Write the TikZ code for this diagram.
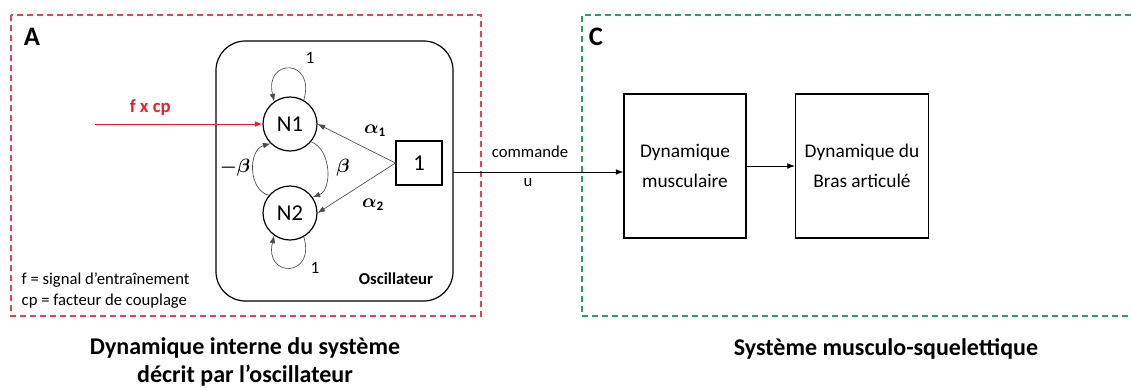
\documentclass[tikz,border=0pt]{standalone}
\usepackage{amsmath,amssymb}
\usepackage{fontspec}
\setmainfont{Carlito}
\usetikzlibrary{arrows.meta}
\definecolor{zonered}{RGB}{232,64,80}
\definecolor{zonegreen}{RGB}{40,160,96}
\definecolor{inred}{RGB}{236,30,40}

\begin{document}
\begin{tikzpicture}[x=0.75pt, y=-0.75pt, every node/.style={font=\fontsize{12}{14}\selectfont}, >={Latex[length=2mm]},
	neuron/.style={draw, circle, line width=0.9pt, minimum size=40.5pt, inner sep=0pt, font=\fontsize{17}{20}\selectfont},
	block/.style={draw, line width=0.9pt, minimum height=108pt, align=center, font=\fontsize{14.5}{23}\selectfont},
	zone/.style={line width=0.9pt, dash pattern=on 4.5pt off 3pt},
	link/.style={->, black!70, line width=0.5pt}]
	\useasboundingbox (0,0) rectangle (1131,387);
	% zones
	\draw[zone, zonered] (11,15) rectangle (481,316);
	\draw[zone, zonegreen] (1131,15) -- (582,15) -- (582,316) -- (1131,316);
	\node[font=\fontsize{20}{22}\selectfont\bfseries] (lblA) at (32,37) {A};
	\node[font=\fontsize{20}{22}\selectfont\bfseries] (lblC) at (596,37) {C};
	% oscillateur
	\draw[line width=0.9pt, rounded corners=22pt] (216,41) rectangle (453,301);
	\node[font=\fontsize{12.5}{14}\selectfont\bfseries] (osclbl) at (396,279) {Oscillateur};
	\node[neuron] (N1) at (290,124) {N1};
	\node[neuron] (N2) at (290,213) {N2};
	\node[draw, line width=0.9pt, minimum width=34.5pt, minimum height=33pt, font=\fontsize{17}{20}\selectfont] (one) at (419,163) {1};
	\draw[link] (N1.60) .. controls (316,58) and (264,58) .. (N1.125);
	\draw[link] (N2.-60) .. controls (316,278) and (264,278) .. (N2.-125);
	\draw[link] (N1.-40) .. controls (332,150) and (332,190) .. (N2.35);
	\draw[link] (N2.140) .. controls (248,190) and (248,150) .. (N1.-135);
	\draw[link] (one.west) -- (N1.east);
	\draw[link] (one.west) -- (N2.east);
	\node[font=\fontsize{13}{15}\selectfont] (w11) at (310,58) {1};
	\node[font=\fontsize{13}{15}\selectfont] (w22) at (315,268) {1};
	\node[font=\fontsize{14}{16}\selectfont] (wb) at (343,168) {$\boldsymbol{\beta}$};
	\node[font=\fontsize{14}{16}\selectfont] (wmb) at (235,168) {$\boldsymbol{-\beta}$};
	\node[font=\fontsize{14}{16}\selectfont] (wa1) at (375,131) {$\boldsymbol{\alpha}_{\mathbf{1}}$};
	\node[font=\fontsize{14}{16}\selectfont] (wa2) at (373,205) {$\boldsymbol{\alpha}_{\mathbf{2}}$};
	% entree
	\coordinate (fin) at (95,124);
	\draw[->, inred, line width=0.6pt] (fin) -- (N1.west) node[pos=0.33, above=3pt, font=\fontsize{14}{16}\selectfont\bfseries] (fcp) {f x cp};
	\node[anchor=west, align=left, font=\fontsize{12.5}{15.75}\selectfont] (legende) at (17,291) {f = signal d'entraînement\\cp = facteur de couplage};
	% systeme musculo-squelettique
	\node[block, minimum width=91.5pt] (musc) at (685,166) {Dynamique\\musculaire};
	\node[block, minimum width=99.75pt] (bras) at (862,166) {Dynamique du\\Bras articulé};
	\coordinate (oscout) at (453,172);
	\draw[->, line width=0.6pt] (oscout) -- (musc.west |- oscout);
	\draw[->, line width=0.6pt] (musc.east) -- (bras.west);
	\node[font=\fontsize{12.5}{14}\selectfont] (cmd) at (530,152) {commande};
	\node[font=\fontsize{12.5}{14}\selectfont] (u) at (528,183) {u};
	% titres
	\node[align=center, font=\fontsize{18}{20.5}\selectfont\bfseries] (titreA) at (245,362) {Dynamique interne du système\\décrit par l'oscillateur};
	\node[font=\fontsize{18}{20}\selectfont\bfseries] (titreC) at (886,349) {Système musculo-squelettique};
\end{tikzpicture}
\end{document}
